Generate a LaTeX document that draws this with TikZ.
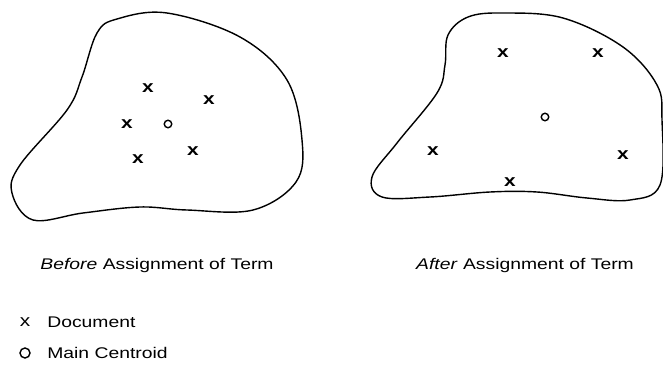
\documentclass[tikz,border=0pt]{standalone}
\usepackage{fontspec}
\setmainfont[FakeStretch=1.25]{Liberation Sans}
\usepackage{tikz}
\usetikzlibrary{positioning}

\begin{document}
\begin{tikzpicture}[
    x=0.02cm, y=-0.02cm,
    blob/.style={draw, line width=0.8pt, smooth cycle, tension=0.6},
    doc/.style={inner sep=0pt, font=\fontsize{9.5}{9}\selectfont\bfseries},
    cen/.style={circle, draw, line width=0.8pt, minimum size=0.15cm, inner sep=0pt},
    caption/.style={font=\fontsize{8.8}{10}\selectfont, inner sep=0pt},
    legend/.style={font=\fontsize{8.8}{10}\selectfont, inner sep=0pt, anchor=west},
]
\useasboundingbox (0,0) rectangle (663,368);

% === BEFORE ===
\draw[blob] plot coordinates {(97,33) (117,19) (167,13) (240,37) (287,80) (302,140) (296,182)
    (253,210) (187,210) (140,207) (83,213) (33,220) (12,193) (20,165) (67,110) (82,77)};
\node[doc] (b1) at (148,88) {x};
\node[doc] (b2) at (209,100) {x};
\node[doc] (b3) at (127,124) {x};
\node[cen] (bc) at (168,124) {};
\node[doc] (b4) at (138,159) {x};
\node[doc] (b5) at (193,151) {x};

% === AFTER ===
\draw[blob] plot coordinates {(448,35) (468,17) (503,13) (563,18) (623,47) (657,85) (662,120)
    (660,185) (630,200) (587,198) (537,192) (490,192) (430,197) (382,197) (372,177) (397,143)
    (437,93) (445,65)};
\node[doc] (a1) at (503,53) {x};
\node[doc] (a2) at (598,53) {x};
\node[cen] (ac) at (545,117) {};
\node[doc] (a3) at (433,151) {x};
\node[doc] (a4) at (623,155) {x};
\node[doc] (a5) at (510,182) {x};

% === CAPTIONS ===
\node[caption] (before) at (157,266) {\textit{Before} Assignment of Term};
\node[caption] (after) at (525,266) {\textit{After} Assignment of Term};

% === LEGEND ===
\node[doc, font=\fontsize{9.5}{9}\selectfont] (kx) at (25,322) {x};
\node[legend] (kdoc) at (47,322) {Document};
\node[cen, minimum size=0.2cm] (ko) at (25,353) {};
\node[legend] (kcen) at (47,353) {Main Centroid};

\end{tikzpicture}
\end{document}
